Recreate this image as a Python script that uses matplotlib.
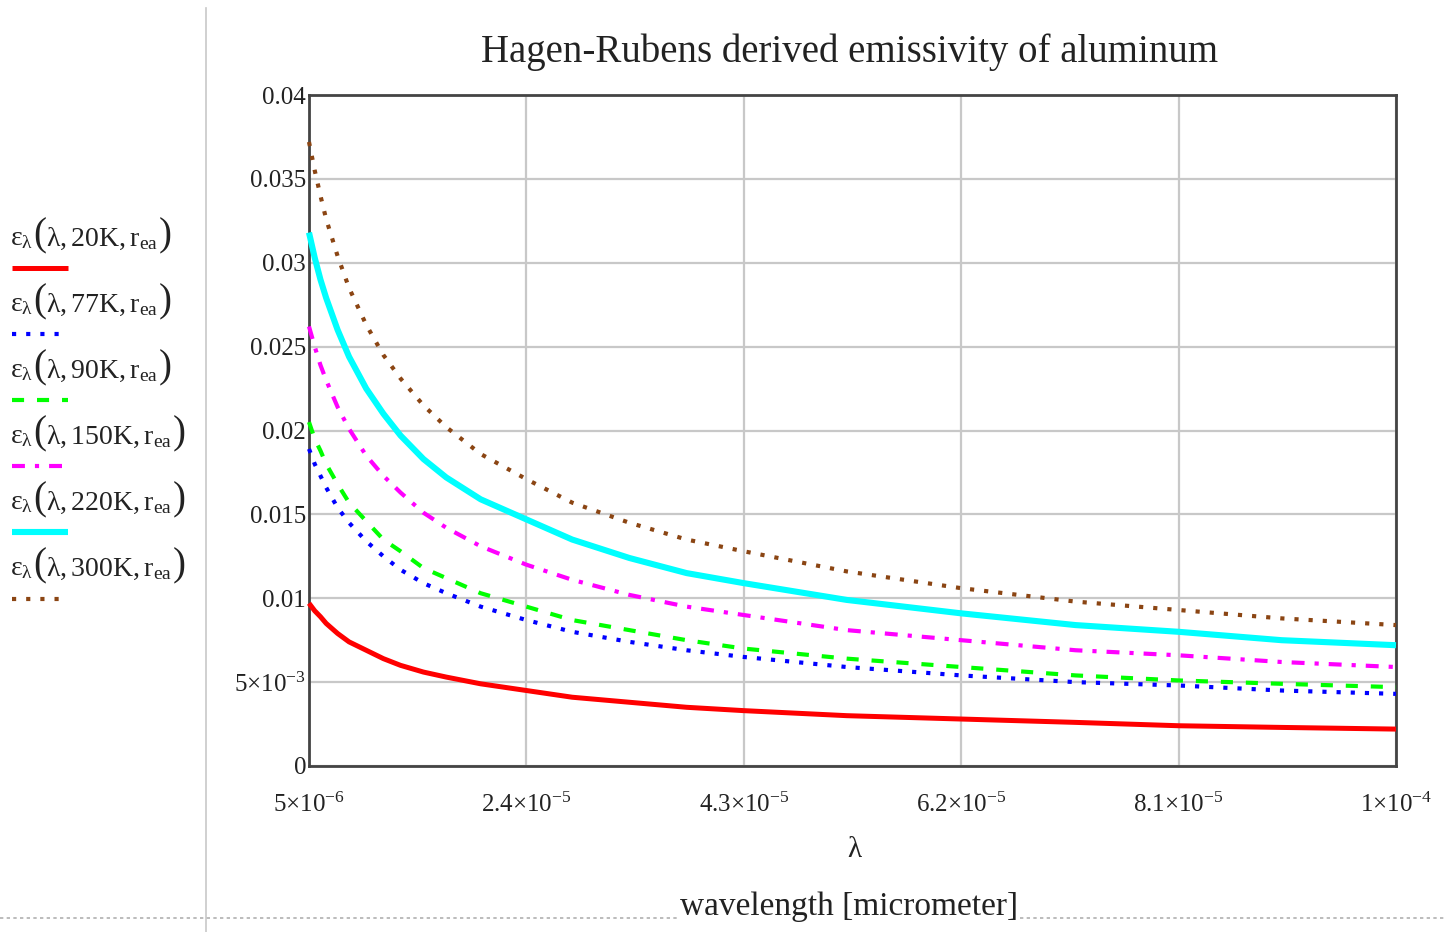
import matplotlib
matplotlib.use("Agg")
import matplotlib.pyplot as plt
from matplotlib.lines import Line2D
from matplotlib.offsetbox import TextArea, HPacker, AnnotationBbox

# wavelength samples [m] and emissivity
wavelength = [5e-6, 5.5e-6, 6e-6, 6.5e-6, 7.5e-6, 8.5e-6, 1e-5, 1.15e-5, 1.3e-5,
              1.5e-5, 1.7e-5, 2e-5, 2.4e-5, 2.8e-5, 3.3e-5, 3.8e-5, 4.3e-5,
              5.2e-5, 6.2e-5, 7.2e-5, 8.1e-5, 9e-5, 1e-4]
eps_20K = [0.0097, 0.00925, 0.0089, 0.0085, 0.0079, 0.0074, 0.0069, 0.0064, 0.0060,
           0.0056, 0.0053, 0.0049, 0.0045, 0.0041, 0.0038, 0.0035, 0.0033,
           0.0030, 0.0028, 0.0026, 0.0024, 0.0023, 0.0022]
eps_77K = [0.0189, 0.0180, 0.0173, 0.0166, 0.0154, 0.0145, 0.0134, 0.0125, 0.0117,
           0.0109, 0.0103, 0.0095, 0.0087, 0.0080, 0.0074, 0.0069, 0.0065,
           0.0059, 0.0054, 0.0050, 0.0048, 0.0045, 0.0043]
eps_90K = [0.0205, 0.0195, 0.0188, 0.0180, 0.0168, 0.0157, 0.0146, 0.0135, 0.0128,
           0.0118, 0.0112, 0.0103, 0.0095, 0.0087, 0.0081, 0.0075, 0.0070,
           0.0064, 0.0059, 0.0054, 0.0051, 0.0049, 0.0047]
eps_150K = [0.0262, 0.0250, 0.0239, 0.0230, 0.0214, 0.0201, 0.0185, 0.0173, 0.0163,
            0.0151, 0.0142, 0.0131, 0.0120, 0.0111, 0.0102, 0.0095, 0.0090,
            0.0081, 0.0075, 0.0069, 0.0066, 0.0062, 0.0059]
eps_220K = [0.0318, 0.0303, 0.0290, 0.0279, 0.0260, 0.0244, 0.0225, 0.0210, 0.0197,
            0.0183, 0.0172, 0.0159, 0.0147, 0.0135, 0.0124, 0.0115, 0.0109,
            0.0099, 0.0091, 0.0084, 0.0080, 0.0075, 0.0072]
eps_300K = [0.0372, 0.0355, 0.0340, 0.0326, 0.0304, 0.0285, 0.0263, 0.0245, 0.0231,
            0.0215, 0.0202, 0.0186, 0.0171, 0.0157, 0.0145, 0.0135, 0.0128,
            0.0116, 0.0106, 0.0098, 0.0093, 0.0088, 0.0084]

temps = ["20K", "77K", "90K", "150K", "220K", "300K"]

x_ticks = [5e-6, 2.4e-5, 4.3e-5, 6.2e-5, 8.1e-5, 1e-4]
x_tick_labels = [r"$5{\times}10^{-6}$", r"$2.4{\times}10^{-5}$", r"$4.3{\times}10^{-5}$",
                 r"$6.2{\times}10^{-5}$", r"$8.1{\times}10^{-5}$", r"$1{\times}10^{-4}$"]
y_ticks = [0, 0.005, 0.01, 0.015, 0.02, 0.025, 0.03, 0.035, 0.04]
y_tick_labels = ["0", r"$5{\times}10^{-3}$", "0.01", "0.015", "0.02", "0.025",
                 "0.03", "0.035", "0.04"]

plt.rcParams["font.family"] = ["Liberation Serif", "DejaVu Serif"]
plt.rcParams["mathtext.fontset"] = "custom"
plt.rcParams["mathtext.rm"] = "Liberation Serif"
plt.rcParams["mathtext.it"] = "Liberation Serif"
plt.rcParams["mathtext.bf"] = "Liberation Serif:bold"
plt.rcParams["mathtext.default"] = "rm"

W, H = 1445, 932
TEXT = "#222222"

styles = [
    dict(color="#ff0000", lw=3.6, ls="-"),
    dict(color="#0000ff", lw=3.0, ls=(0, (1, 2.4))),
    dict(color="#00ff00", lw=3.0, ls=(0, (2.9, 3.1))),
    dict(color="#ff00ff", lw=3.0, ls=(0, (3.1, 2.4, 1, 2.4))),
    dict(color="#00ffff", lw=4.4, ls="-"),
    dict(color="#8b4513", lw=3.0, ls=(0, (1, 2.4))),
]
series = [eps_20K, eps_77K, eps_90K, eps_150K, eps_220K, eps_300K]


def fx(px):
    return px / W


def fy(py):
    return 1 - py / H


def legend_label(temp):
    small = dict(fontsize=20, color=TEXT)
    big = dict(fontsize=28, color=TEXT)
    parts = [
        TextArea(r"$\varepsilon_{\lambda}$", textprops=small),
        TextArea("(", textprops=big),
        TextArea(r"$\lambda,%s,r_{ea}$" % temp, textprops=small),
        TextArea(")", textprops=big),
    ]
    return HPacker(children=parts, align="baseline", pad=0, sep=0)


fig = plt.figure(figsize=(W / 100, H / 100), dpi=100)
ax = fig.add_axes([fx(309), fy(766), (1396 - 309) / W, (766 - 95) / H])

for vals, st in zip(series, styles):
    ax.plot(wavelength, vals, color=st["color"], lw=st["lw"], linestyle=st["ls"],
            dash_capstyle="butt", solid_capstyle="butt", solid_joinstyle="round",
            zorder=3, clip_on=False)

ax.set_xlim(5e-6, 1e-4)
ax.set_ylim(0, 0.04)
ax.set_xticks(x_ticks)
ax.set_xticklabels(x_tick_labels)
ax.set_yticks(y_ticks)
ax.set_yticklabels(y_tick_labels)
ax.tick_params(length=0, labelsize=18, colors=TEXT)
ax.tick_params(axis="x", pad=19)
ax.tick_params(axis="y", pad=2)
ax.grid(color="#c8c8c8", lw=1.6)
ax.set_axisbelow(True)
for sp in ax.spines.values():
    sp.set_color("#444444")
    sp.set_linewidth(2)

fig.text(fx(850), fy(52), "Hagen-Rubens derived emissivity of aluminum",
         ha="center", va="center", fontsize=28, color=TEXT)
fig.text(fx(855), fy(850), r"$\lambda$", ha="center", va="center", fontsize=21, color=TEXT)

# page decorations
fig.add_artist(Line2D([fx(206), fx(206)], [fy(8), fy(932)], color="#c8c8c8", lw=1.2))
fig.add_artist(Line2D([0, 1], [fy(918), fy(918)], color="#b0b0b0", lw=1.2, ls=(0, (2, 2))))
fig.text(fx(849), fy(907), "wavelength [micrometer]", ha="center", va="center",
         fontsize=24, color=TEXT,
         bbox=dict(facecolor="white", edgecolor="none", pad=0))

# legend on the left, label above each line sample
text_y = [236, 302, 368, 434, 500, 566]
line_y = [268, 334, 400, 466, 532, 599]
for t, st, ty, ly in zip(temps, styles, text_y, line_y):
    ab = AnnotationBbox(legend_label(t), (fx(10), fy(ty)), xycoords="figure fraction",
                        box_alignment=(0, 0.5), frameon=False, pad=0)
    fig.add_artist(ab)
    fig.add_artist(Line2D([fx(12), fx(68)], [fy(ly), fy(ly)], color=st["color"],
                          lw=st["lw"], linestyle=st["ls"], dash_capstyle="butt",
                          solid_capstyle="butt"))

fig.savefig("out.png", dpi=100)
